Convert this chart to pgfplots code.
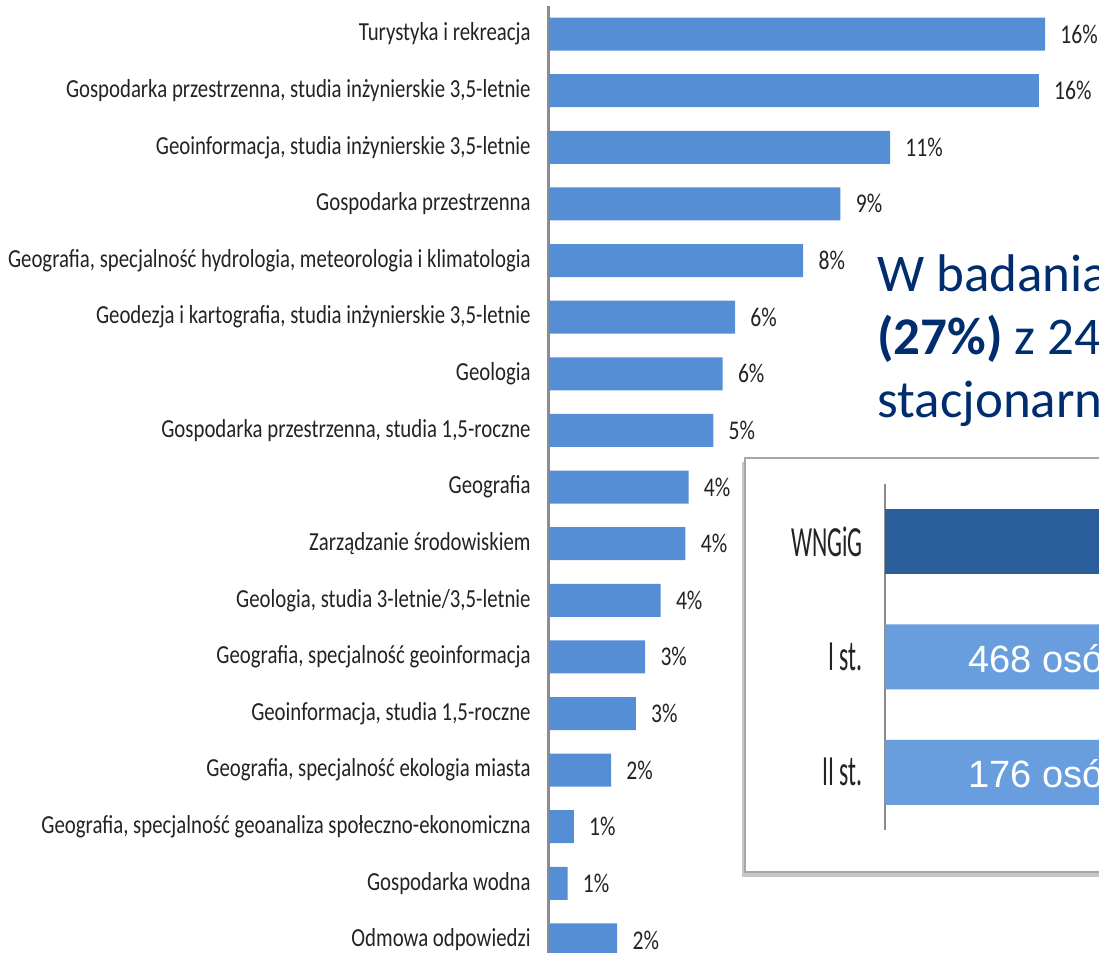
\documentclass[border=0pt]{standalone}
\usepackage{pgfplots}
\pgfplotsset{compat=1.18}
\usepackage{fontspec}
\setmainfont{Carlito}
\newfontfamily\condfont{Carlito}[FakeStretch=0.8]
\newfontfamily\condfontB{Carlito}[FakeStretch=0.55]
\newfontfamily\arialfont{Liberation Sans}
\definecolor{barblue}{RGB}{85,142,213}
\definecolor{darkbar}{RGB}{43,95,155}
\definecolor{lightbar}{RGB}{104,158,222}
\definecolor{navy}{RGB}{0,45,110}
\definecolor{labcol}{RGB}{35,35,35}
\definecolor{axcol}{RGB}{140,140,140}
\begin{document}
\begin{tikzpicture}
\useasboundingbox (0pt,0pt) rectangle (549.5pt,476.5pt);
\clip (0pt,0pt) rectangle (549.5pt,476.5pt);
% main chart
\begin{axis}[
  at={(274.5pt,-7.65pt)}, anchor=south west,
  scale only axis, width=275pt, height=481.3pt,
  xbar, bar width=16.5pt,
  xmin=0, xmax=17.74, ymin=-0.5, ymax=16.5, y dir=reverse,
  axis x line=none, axis y line*=left,
  y axis line style={draw=axcol, line width=1.5pt},
  ytick={0,...,16},
  major tick length=0pt, ytick style={draw=none},
  yticklabels={
    {Turystyka i rekreacja},
    {Gospodarka przestrzenna, studia inżynierskie 3,5-letnie},
    {Geoinformacja, studia inżynierskie 3,5-letnie},
    {Gospodarka przestrzenna},
    {Geografia, specjalność hydrologia, meteorologia i klimatologia},
    {Geodezja i kartografia, studia inżynierskie 3,5-letnie},
    {Geologia},
    {Gospodarka przestrzenna, studia 1,5-roczne},
    {Geografia},
    {Zarządzanie środowiskiem},
    {Geologia, studia 3-letnie/3,5-letnie},
    {Geografia, specjalność geoinformacja},
    {Geoinformacja, studia 1,5-roczne},
    {Geografia, specjalność ekologia miasta},
    {Geografia, specjalność geoanaliza społeczno-ekonomiczna},
    {Gospodarka wodna},
    {Odmowa odpowiedzi}},
  yticklabel style={font=\condfont\fontsize{13}{15}\selectfont, text=labcol, anchor=east, inner sep=0pt, xshift=-9pt},
  point meta=explicit symbolic,
  nodes near coords={\pgfplotspointmeta\%},
  nodes near coords style={font=\condfont\fontsize{13.5}{15}\selectfont, text=labcol, anchor=west, inner sep=0pt, xshift=7.5pt},
  clip=false,
]
\addplot[fill=barblue, draw=none] coordinates {
  (16.0,0) [16]
  (15.8,1) [16]
  (11.0,2) [11]
  (9.4,3) [9]
  (8.2,4) [8]
  (6.0,5) [6]
  (5.6,6) [6]
  (5.3,7) [5]
  (4.5,8) [4]
  (4.4,9) [4]
  (3.6,10) [4]
  (3.1,11) [3]
  (2.8,12) [3]
  (2.0,13) [2]
  (0.8,14) [1]
  (0.6,15) [1]
  (2.2,16) [2]
};
\end{axis}
% text
\node[anchor=base west, inner sep=0pt, text=navy, font=\fontsize{26.5}{30}\selectfont] at (438.5pt,330.5pt) {W badaniach};
\node[anchor=base west, inner sep=0pt, text=navy, font=\fontsize{26.5}{30}\selectfont] at (438.5pt,299pt) {\textbf{(27\%)} z 2400};
\node[anchor=base west, inner sep=0pt, text=navy, font=\fontsize{26.5}{30}\selectfont] at (438.5pt,267.5pt) {stacjonarnych};
% inset box
\fill[black!22] (371pt,38pt) rectangle (560pt,245.5pt);
\draw[fill=white, draw=black!35, line width=1pt] (372.5pt,40.5pt) rectangle (560pt,247.5pt);
\begin{axis}[
  at={(442.5pt,61.5pt)}, anchor=south west,
  scale only axis, width=150pt, height=173.1pt,
  xbar, bar width=32.5pt,
  xmin=0, xmax=30, ymin=-0.5, ymax=2.5, y dir=reverse,
  axis x line=none, axis y line*=left,
  y axis line style={draw=axcol, line width=1pt},
  ytick={0,1,2}, yticklabels={WNGiG,I st.,II st.},
  major tick length=0pt, ytick style={draw=none},
  yticklabel style={font=\condfontB\fontsize{21.5}{24}\selectfont, text=labcol, anchor=east, inner sep=0pt, xshift=-11pt},
  clip=false,
]
\addplot[fill=darkbar, draw=none, bar shift=0pt] coordinates {(27,0)};
\addplot[fill=lightbar, draw=none, bar shift=0pt] coordinates {(27,1) (27,2)};
\node[anchor=base west, inner sep=0pt, text=white, font=\arialfont\fontsize{19}{22}\selectfont, yshift=-7.75pt] at (axis cs:8.3,1) {468 osób};
\node[anchor=base west, inner sep=0pt, text=white, font=\arialfont\fontsize{19}{22}\selectfont, yshift=-7.75pt] at (axis cs:8.3,2) {176 osób};
\end{axis}
\end{tikzpicture}
\end{document}
